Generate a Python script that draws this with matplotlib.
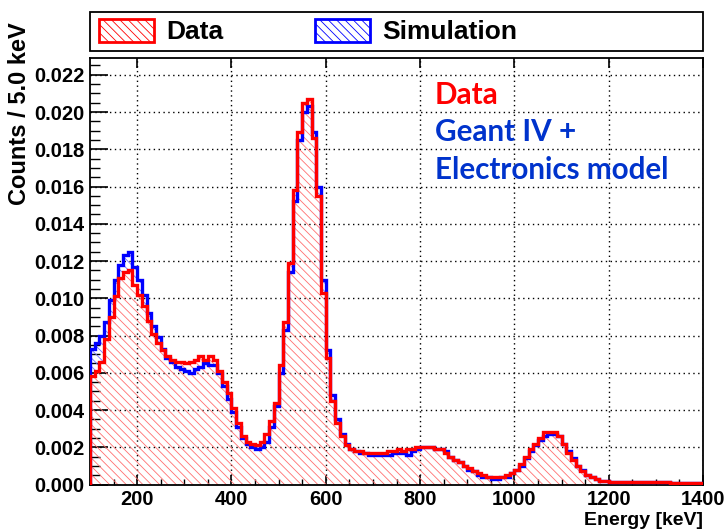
import numpy as np
import matplotlib
matplotlib.use("Agg")
import matplotlib.pyplot as plt
from matplotlib.patches import Patch, Rectangle
from matplotlib.ticker import MultipleLocator

bin_edges_start = 100
bin_width = 10
data_counts = [
    0.0058, 0.0061, 0.0066, 0.0078, 0.0090, 0.0101, 0.0111, 0.0114, 0.0115, 0.0107,
    0.0102, 0.0096, 0.0088, 0.0081, 0.0076, 0.0072, 0.0069, 0.0067, 0.0066, 0.0066,
    0.0065, 0.0066, 0.0067, 0.0069, 0.0067, 0.0069, 0.0067, 0.0061, 0.0055, 0.0049,
    0.0041, 0.0033, 0.0026, 0.0023, 0.0022, 0.0021, 0.0023, 0.0027, 0.0034, 0.0044,
    0.0064, 0.0087, 0.0119, 0.0158, 0.0189, 0.0205, 0.0207, 0.0186, 0.0155, 0.0103,
    0.0068, 0.0045, 0.0033, 0.0026, 0.0021, 0.0019, 0.0018, 0.0018, 0.0017, 0.0017,
    0.0017, 0.0017, 0.0017, 0.0018, 0.0018, 0.0019, 0.0018, 0.0019, 0.0019, 0.0020,
    0.0020, 0.0020, 0.0020, 0.0019, 0.0019, 0.0017, 0.0015, 0.0013, 0.0012, 0.0010,
    0.0009, 0.0007, 0.0006, 0.0005, 0.0004, 0.0004, 0.0004, 0.0004, 0.0005, 0.0006,
    0.0008, 0.0011, 0.0015, 0.0019, 0.0022, 0.0025, 0.0028, 0.0028, 0.0028, 0.0026,
    0.0022, 0.0017, 0.0013, 0.0010, 0.0007, 0.0005, 0.0004, 0.0003, 0.0002, 0.0002,
    0.00016, 0.00015, 0.00015, 0.00014, 0.00014, 0.00013, 0.00013, 0.00012, 0.00012, 0.00012,
    0.00011, 0.00011, 0.00011, 0.00010, 0.00010, 0.00010, 0.00010, 0.00010, 0.00009, 0.00009,
]
sim_counts = [
    0.0073, 0.0076, 0.0080, 0.0087, 0.0099, 0.0110, 0.0118, 0.0123, 0.0125, 0.0117,
    0.0110, 0.0102, 0.0092, 0.0085, 0.0079, 0.0073, 0.0068, 0.0066, 0.0063, 0.0062,
    0.0061, 0.0060, 0.0062, 0.0063, 0.0065, 0.0064, 0.0064, 0.0060, 0.0053, 0.0046,
    0.0039, 0.0031, 0.0025, 0.0022, 0.0020, 0.0019, 0.0020, 0.0023, 0.0031, 0.0042,
    0.0060, 0.0083, 0.0114, 0.0152, 0.0185, 0.0200, 0.0203, 0.0189, 0.0160, 0.0110,
    0.0072, 0.0048, 0.0035, 0.0027, 0.0022, 0.0019, 0.0018, 0.0017, 0.0017, 0.0016,
    0.0016, 0.0016, 0.0016, 0.0016, 0.0017, 0.0017, 0.0017, 0.0016, 0.0018, 0.0019,
    0.0020, 0.0020, 0.0020, 0.0019, 0.0019, 0.0018, 0.0015, 0.0013, 0.0012, 0.0010,
    0.0008, 0.0007, 0.0005, 0.0004, 0.0004, 0.0003, 0.0003, 0.0004, 0.0004, 0.0006,
    0.0008, 0.0010, 0.0014, 0.0018, 0.0021, 0.0024, 0.0026, 0.0027, 0.0027, 0.0026,
    0.0022, 0.0018, 0.0014, 0.0010, 0.0008, 0.0005, 0.0004, 0.0003, 0.0002, 0.0002,
    0.00016, 0.00015, 0.00015, 0.00014, 0.00014, 0.00013, 0.00013, 0.00012, 0.00012, 0.00012,
    0.00011, 0.00011, 0.00011, 0.00010, 0.00010, 0.00010, 0.00010, 0.00010, 0.00009, 0.00009,
]
xticks = [200, 400, 600, 800, 1000, 1200, 1400]
yticks = [0.000, 0.002, 0.004, 0.006, 0.008, 0.010, 0.012, 0.014, 0.016, 0.018, 0.020, 0.022]

data_counts = np.array(data_counts)
sim_counts = np.array(sim_counts)
edges = bin_edges_start + bin_width * np.arange(len(data_counts) + 1)

plt.rcParams['font.family'] = ['Liberation Sans', 'DejaVu Sans']
plt.rcParams['hatch.linewidth'] = 0.6

fig = plt.figure(figsize=(7.27, 5.29), dpi=100)
ax = fig.add_axes([90/727, 1-484.5/529, (703-90)/727, (484.5-58)/529])

RED = '#ff0000'
BLUE = '#0000ff'
HATCH = '\\\\\\\\'

# simulation hatch only where simulation exceeds data
ax.stairs(np.maximum(sim_counts, data_counts), edges, baseline=data_counts, fill=True,
          facecolor='none', edgecolor='#7070ff', hatch=HATCH, linewidth=0, zorder=2)
ax.stairs(sim_counts, edges, color=BLUE, linewidth=2.4, zorder=3)
# data fill + line
ax.stairs(data_counts, edges, fill=True, facecolor='none', edgecolor='#ff7070',
          hatch=HATCH, linewidth=0, zorder=2)
ax.stairs(data_counts, edges, color=RED, linewidth=2.4, zorder=5)

ax.set_xlim(100, 1400)
ax.set_ylim(0, 0.0229)
ax.set_xticks(xticks)
ax.set_yticks(yticks)
ax.xaxis.set_minor_locator(MultipleLocator(50))
ax.yaxis.set_minor_locator(MultipleLocator(0.0005))
ax.set_xticklabels([str(v) for v in xticks], fontsize=14.5, fontweight='bold')
ax.set_yticklabels([f"{v:.3f}" for v in yticks], fontsize=14.5, fontweight='bold')
ax.tick_params(axis='y', which='major', direction='in', length=13, width=1.2, pad=4)
ax.tick_params(axis='y', which='minor', direction='in', length=7, width=1.0)
ax.tick_params(axis='x', which='major', direction='in', length=7, width=1.2, pad=4, top=True)
ax.tick_params(axis='x', which='minor', direction='in', length=4.5, width=1.0)
ax.grid(True, which='major', linestyle=(0, (1, 2.5)), color='black', linewidth=1.0, zorder=1)
ax.set_axisbelow(True)
for s in ax.spines.values():
    s.set_linewidth(1.3)

fig.text(20/727, 1-114/529, 'Counts / 5.0 keV', rotation=90, fontsize=17,
         fontweight='bold', ha='center', va='center')
ax.set_xlabel('Energy [keV]', fontsize=14, fontweight='bold', loc='right', labelpad=2)

ann_font = ['Lato', 'DejaVu Sans']
ax.text(0.563, 0.913, 'Data', transform=ax.transAxes, color='#ff0000', fontsize=21.3,
        fontweight='bold', family=ann_font, va='center', ha='left')
ax.text(0.563, 0.826, 'Geant IV +', transform=ax.transAxes, color='#0033cc', fontsize=21.3,
        fontweight='bold', family=ann_font, va='center', ha='left')
ax.text(0.563, 0.737, 'Electronics model', transform=ax.transAxes, color='#0033cc', fontsize=21.3,
        fontweight='bold', family=ann_font, va='center', ha='left')

# legend box
fig.patches.append(Rectangle((90/727, 1-51/529), (703-90)/727, 39/529, transform=fig.transFigure,
                             facecolor='white', edgecolor='black', linewidth=1.3))
handles = [Patch(facecolor='none', edgecolor=RED, hatch=HATCH, linewidth=2),
           Patch(facecolor='none', edgecolor=BLUE, hatch=HATCH, linewidth=2)]
leg = fig.legend(handles, ['Data', 'Simulation'], loc='center left', ncol=2,
                 bbox_to_anchor=(99/727, 1-31.5/529), frameon=False,
                 handlelength=2.08, handleheight=0.95, handletextpad=0.45,
                 columnspacing=3.5, borderpad=0, borderaxespad=0,
                 prop={'size': 19, 'weight': 'bold'})

fig.savefig('out.png', dpi=100)
